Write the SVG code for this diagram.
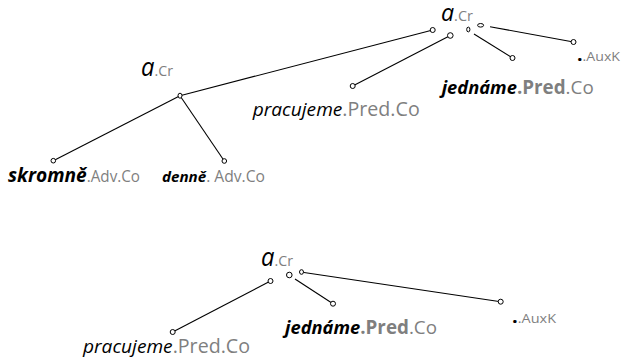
<svg xmlns="http://www.w3.org/2000/svg" width="621" height="358" viewBox="0 0 621 358">
  <style>
    text { font-family: "Open Sans", "Noto Sans", "Liberation Sans", sans-serif; }
    .lem { font-style: italic; fill: #000; }
    .lemb { font-style: italic; font-weight: bold; fill: #000; }
    .fn { fill: #7f7f7f; }
    .fnb { fill: #7f7f7f; font-weight: bold; }
    .dot { fill: #000; font-weight: bold; }
    .edge { stroke: #000; stroke-width: 1.1; fill: none; }
    .pt { fill: #fff; stroke: #000; stroke-width: 1; }
  </style>

  <!-- connectors -->
  <g id="connectors">
    <line class="edge" x1="432.7" y1="30" x2="180" y2="95.7"/>
    <line class="edge" x1="450.3" y1="35.5" x2="352.7" y2="86"/>
    <line class="edge" x1="474" y1="34" x2="512.5" y2="58"/>
    <line class="edge" x1="490" y1="26.7" x2="573.5" y2="42"/>
    <line class="edge" x1="180" y1="95.7" x2="53.3" y2="160.7"/>
    <line class="edge" x1="180" y1="95.7" x2="224.3" y2="161"/>
    <line class="edge" x1="270.5" y1="281" x2="172.7" y2="332"/>
    <line class="edge" x1="295" y1="279" x2="333" y2="303.7"/>
    <line class="edge" x1="304" y1="272.5" x2="500.7" y2="301.7"/>
  </g>

  <!-- upper tree -->
  <g id="t1-root">
    <text x="441" y="20.5" textLength="32" lengthAdjust="spacingAndGlyphs"><tspan class="lem" font-size="24">a</tspan><tspan class="fn" font-size="15">.Cr</tspan></text>
    <circle class="pt" cx="432.7" cy="30" r="2.5"/>
    <circle class="pt" cx="450.3" cy="35.5" r="2.8"/>
    <ellipse class="pt" cx="468.3" cy="29.5" rx="1.6" ry="2.4"/>
    <ellipse class="pt" cx="480.6" cy="25.3" rx="3" ry="1.8"/>
  </g>
  <g id="t1-cr">
    <ellipse class="pt" cx="180" cy="95.7" rx="2" ry="2.5"/>
    <text x="141" y="76" textLength="32" lengthAdjust="spacingAndGlyphs"><tspan class="lem" font-size="25">a</tspan><tspan class="fn" font-size="15">.Cr</tspan></text>
  </g>
  <g id="t1-pracujeme">
    <circle class="pt" cx="352.7" cy="86" r="2.5"/>
    <text x="252.7" y="116" textLength="167" lengthAdjust="spacingAndGlyphs"><tspan class="lem" font-size="19">pracujeme</tspan><tspan class="fn" font-size="19.5">.Pred.Co</tspan></text>
  </g>
  <g id="t1-jedname">
    <circle class="pt" cx="512.5" cy="58" r="2.5"/>
    <text x="441.7" y="94" textLength="152" lengthAdjust="spacingAndGlyphs"><tspan class="lemb" font-size="18.5">jednáme</tspan><tspan class="fnb" font-size="19">.Pred</tspan><tspan class="fn" font-size="19">.Co</tspan></text>
  </g>
  <g id="t1-auxk">
    <circle class="pt" cx="573.5" cy="42" r="2.5"/>
    <text x="577" y="61" textLength="43" lengthAdjust="spacingAndGlyphs"><tspan class="dot" font-size="18">.</tspan><tspan class="fn" font-size="13">.AuxK</tspan></text>
  </g>
  <g id="t1-skromne">
    <circle class="pt" cx="53.3" cy="160.7" r="2.3"/>
    <text x="8" y="182" textLength="132" lengthAdjust="spacingAndGlyphs"><tspan class="lemb" font-size="19.5">skromně</tspan><tspan class="fn" font-size="15.5">.Adv.Co</tspan></text>
  </g>
  <g id="t1-denne">
    <circle class="pt" cx="224.3" cy="161" r="2.3"/>
    <text x="162" y="182" textLength="103" lengthAdjust="spacingAndGlyphs"><tspan class="lemb" font-size="15">denně</tspan><tspan class="fn" font-size="15.5">. Adv.Co</tspan></text>
  </g>

  <!-- lower tree -->
  <g id="t2-root">
    <text x="261" y="266" textLength="32" lengthAdjust="spacingAndGlyphs"><tspan class="lem" font-size="25">a</tspan><tspan class="fn" font-size="15">.Cr</tspan></text>
    <circle class="pt" cx="270.5" cy="281" r="2.5"/>
    <circle class="pt" cx="289.3" cy="275" r="2.8"/>
    <ellipse class="pt" cx="301.5" cy="272" rx="2" ry="2.3"/>
  </g>
  <g id="t2-pracujeme">
    <circle class="pt" cx="172.7" cy="332" r="2.5"/>
    <text x="83" y="353" textLength="167" lengthAdjust="spacingAndGlyphs"><tspan class="lem" font-size="19">pracujeme</tspan><tspan class="fn" font-size="19.5">.Pred.Co</tspan></text>
  </g>
  <g id="t2-jedname">
    <circle class="pt" cx="333" cy="303.7" r="2.5"/>
    <text x="285" y="334" textLength="152" lengthAdjust="spacingAndGlyphs"><tspan class="lemb" font-size="18.5">jednáme</tspan><tspan class="fnb" font-size="19">.Pred</tspan><tspan class="fn" font-size="19">.Co</tspan></text>
  </g>
  <g id="t2-auxk">
    <circle class="pt" cx="500.7" cy="301.7" r="2.5"/>
    <text x="512" y="323" textLength="44" lengthAdjust="spacingAndGlyphs"><tspan class="dot" font-size="18">.</tspan><tspan class="fn" font-size="13">.AuxK</tspan></text>
  </g>
</svg>
